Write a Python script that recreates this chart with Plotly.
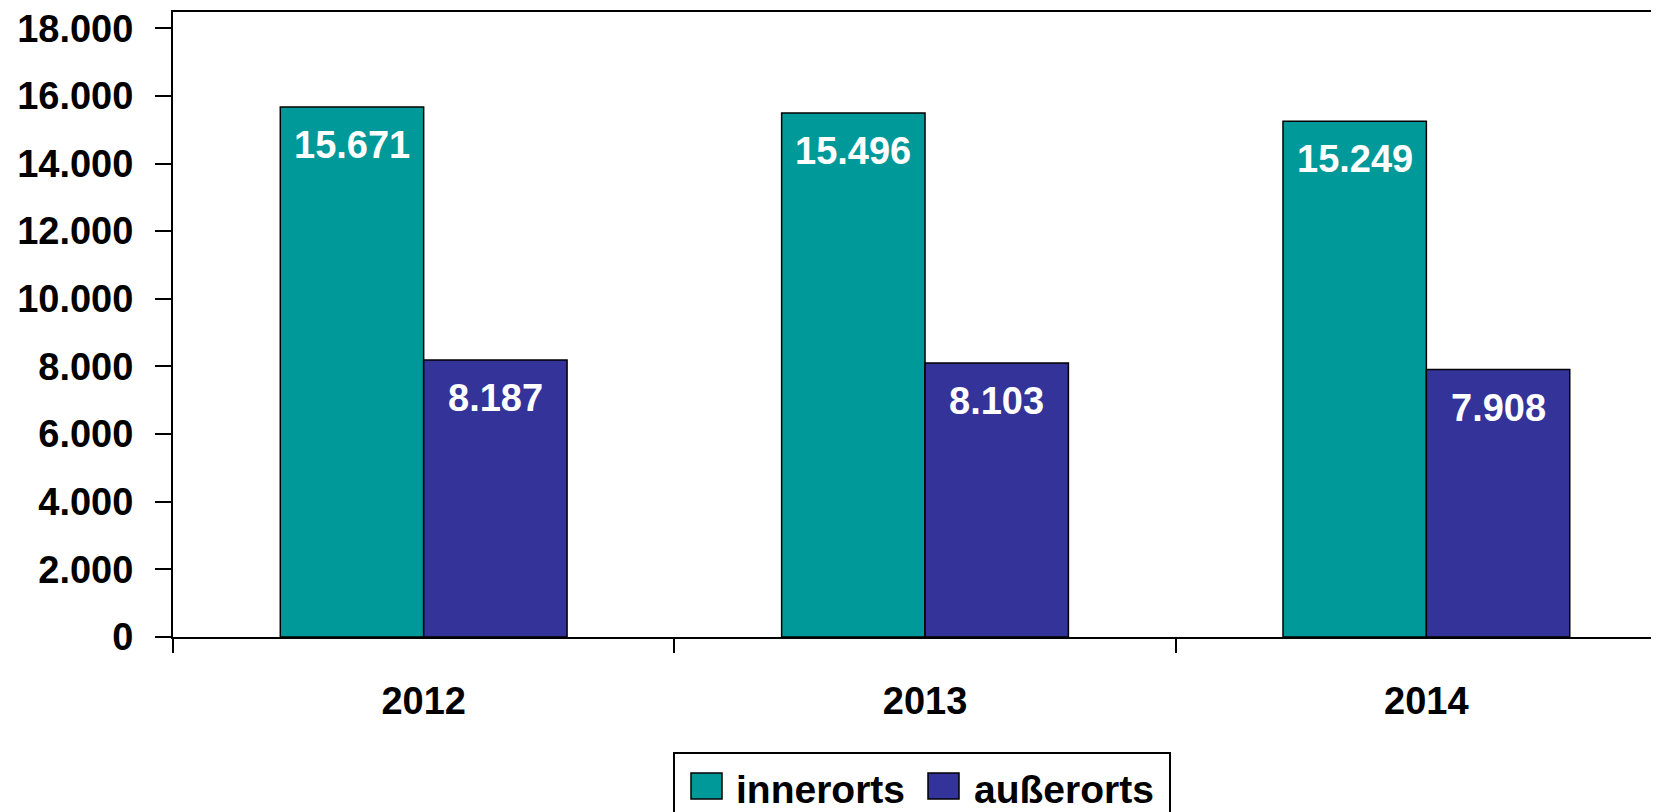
import plotly.graph_objects as go

# data
years = ["2012", "2013", "2014"]
innerorts = [15671, 15496, 15249]
ausserorts = [8187, 8103, 7908]
series_names = ["innerorts", "außerorts"]
series_colors = ["#009999", "#333399"]

FONT = "Liberation Sans, Arial, sans-serif"
FS = 38

# page body has an 8px margin, so the figure starts at (8, 8) on screen
OFF = 8
W, H = 1659 - OFF, 812 - OFF
L, T, B, R = 173 - OFF, 12 - OFF, 175, 0


def px_x(x):
    # screen pixel -> paper x
    return (x - OFF - L) / (W - L - R)


def px_y(y):
    # screen pixel -> paper y
    return (H - B - (y - OFF)) / (H - T - B)


fig = go.Figure()
for i, (name, vals, color) in enumerate(zip(series_names, [innerorts, ausserorts], series_colors)):
    fig.add_trace(go.Bar(
        x=years, y=vals, name=name,
        marker=dict(color=color, line=dict(color="black", width=1.5)),
        showlegend=False,
    ))
    # value labels inside the bars, near the top
    for j, v in enumerate(vals):
        fig.add_annotation(
            x=j, y=v, text=f"{v:,}".replace(",", "."),
            xshift=(-1 if i == 0 else 1) * 71.7, yshift=-15,
            yanchor="top", showarrow=False,
            font=dict(family=FONT, size=FS, color="white", weight="bold"),
        )

# legend drawn by hand so the swatches can be large
fig.add_shape(type="rect", xref="paper", yref="paper",
              x0=px_x(674), x1=px_x(1170), y0=px_y(753), y1=px_y(840),
              line=dict(color="black", width=2), fillcolor="white", layer="above")
sw_left = [691, 928]
txt_left = [734, 972]
for name, color, sx, tx in zip(series_names, series_colors, sw_left, txt_left):
    fig.add_shape(type="rect", xref="paper", yref="paper",
                  x0=px_x(sx), x1=px_x(sx + 31), y0=px_y(773), y1=px_y(799),
                  line=dict(color="black", width=1.5), fillcolor=color, layer="above")
    fig.add_annotation(xref="paper", yref="paper", x=px_x(tx), y=px_y(789),
                       xanchor="left", yanchor="middle", text=name, showarrow=False,
                       font=dict(family=FONT, size=39, color="black", weight="bold"))

fig.update_layout(
    width=W, height=H,
    margin=dict(l=L, r=R, t=T, b=B),
    paper_bgcolor="white", plot_bgcolor="white",
    bargap=0.428, bargroupgap=0,
    separators=",.",
    font=dict(family=FONT, size=FS, color="black"),
)
fig.update_xaxes(
    type="category", range=[-0.5, 2.464],
    showline=True, linecolor="black", linewidth=2, mirror=True,
    ticks="outside", tickson="boundaries", ticklen=14, tickwidth=2, tickcolor="black",
    tickfont=dict(family=FONT, size=FS, color="black", weight="bold"),
    ticklabelstandoff=29, showgrid=False,
)
fig.update_yaxes(
    range=[0, 18480], tick0=0, dtick=2000, tickformat=",d",
    showline=True, linecolor="black", linewidth=2,
    ticks="outside", ticklen=16, tickwidth=2, tickcolor="black",
    tickfont=dict(family=FONT, size=FS, color="black", weight="bold"),
    ticklabelstandoff=14, ticklabeloverflow="allow",
    showgrid=False, zeroline=False,
)

fig.write_html("out.html")
